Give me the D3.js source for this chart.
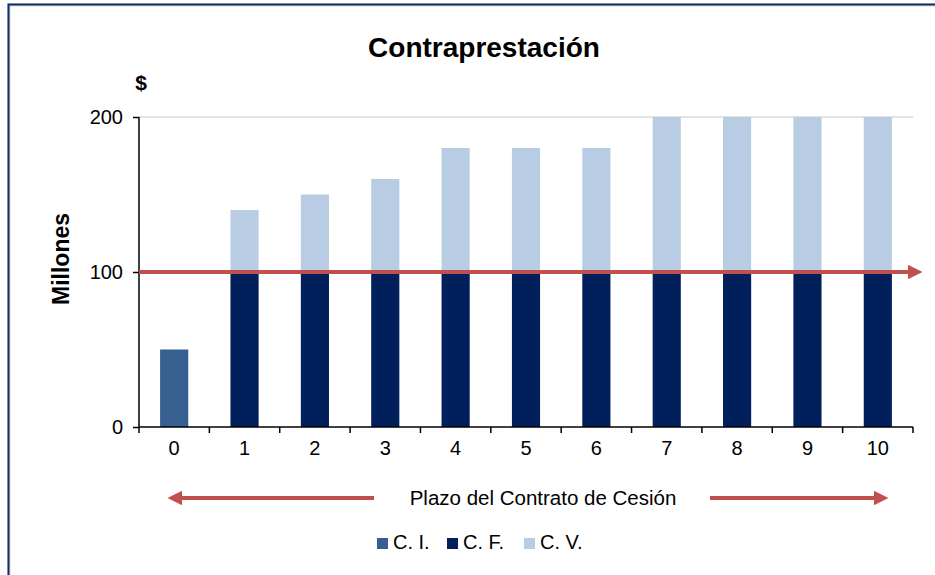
<!DOCTYPE html>
<html>
<head>
<meta charset="utf-8">
<script src="https://cdn.jsdelivr.net/npm/d3@7"></script>
<style>
  body { margin: 0; background: #fff; }
  svg { display: block; font-family: "Liberation Sans", Arial, sans-serif; }
</style>
</head>
<body>
<svg width="935" height="575"></svg>
<script>
// data
var periods = ["0", "1", "2", "3", "4", "5", "6", "7", "8", "9", "10"];
var ci = [50, 0, 0, 0, 0, 0, 0, 0, 0, 0, 0];
var cf = [0, 100, 100, 100, 100, 100, 100, 100, 100, 100, 100];
var cv = [0, 40, 50, 60, 80, 80, 80, 100, 100, 100, 100];
var seriesNames = ["C. I.", "C. F.", "C. V."];
var seriesColors = ["#35608f", "#001f5b", "#b8cce4"];
var yTicks = [0, 100, 200];
var refValue = 100;

var svg = d3.select("svg"),
    margin = {left: 139, right: 22, top: 117, bottom: 148},
    width = 935 - margin.left - margin.right,
    height = 575 - margin.top - margin.bottom;

// frame
svg.append("rect")
    .attr("x", 9).attr("y", 5)
    .attr("width", 940).attr("height", 590)
    .attr("fill", "none")
    .attr("stroke", "#d9d9d9").attr("stroke-width", 3);
svg.append("rect")
    .attr("x", 8.5).attr("y", 4.5)
    .attr("width", 940).attr("height", 590)
    .attr("fill", "none")
    .attr("stroke", "#0f2d6b").attr("stroke-width", 2);

var g = svg.append("g").attr("transform", "translate(" + margin.left + "," + margin.top + ")");

var x = d3.scaleBand().domain(periods).range([0, width]);
var y = d3.scaleLinear().domain([0, 200]).range([height, 0]);

var rows = periods.map(function(p, i) {
  return {period: p, ci: ci[i], cf: cf[i], cv: cv[i]};
});
var stack = d3.stack().keys(["ci", "cf", "cv"])(rows);

// gridline at 200
g.append("line")
    .attr("x1", 0).attr("x2", width)
    .attr("y1", y(200)).attr("y2", y(200))
    .attr("stroke", "#d9d9d9").attr("stroke-width", 1.5);

var barW = x.bandwidth() * 0.4;
g.append("g").selectAll("g")
  .data(stack)
  .enter().append("g")
    .attr("fill", function(d, i) { return seriesColors[i]; })
  .selectAll("rect")
  .data(function(d) { return d.filter(function(e) { return e[1] > e[0]; }); })
  .enter().append("rect")
    .attr("x", function(d) { return x(d.data.period) + (x.bandwidth() - barW) / 2; })
    .attr("width", barW)
    .attr("y", function(d) { return y(d[1]); })
    .attr("height", function(d) { return y(d[0]) - y(d[1]); });

// axes
var yAxis = g.append("g")
    .call(d3.axisLeft(y).tickValues(yTicks).tickSize(6).tickPadding(10));
var xAxis = g.append("g")
    .attr("transform", "translate(0," + height + ")")
    .call(d3.axisBottom(x).tickSize(0).tickPadding(14));
xAxis.selectAll(".tick line").remove();
// x ticks at band boundaries
g.append("g").selectAll("line")
  .data(periods.concat(["end"]))
  .enter().append("line")
    .attr("x1", function(d, i) { return i * x.step(); })
    .attr("x2", function(d, i) { return i * x.step(); })
    .attr("y1", height).attr("y2", height + 6)
    .attr("stroke", "#000").attr("stroke-width", 1.5);

[yAxis, xAxis].forEach(function(a) {
  a.attr("font-size", null).attr("font-family", null);
  a.selectAll("text").attr("fill", "#000")
    .style("font-size", "20px")
    .style("font-family", "'Liberation Sans', Arial, sans-serif");
  a.select(".domain").attr("stroke", "#000").attr("stroke-width", 1.5);
  a.selectAll(".tick line").attr("stroke", "#000").attr("stroke-width", 1.5);
});
yAxis.select(".domain").attr("d", "M0,0V" + height);
xAxis.select(".domain").attr("d", "M0,0H" + width);

// marker
var defs = svg.append("defs");
defs.append("marker")
    .attr("id", "arrow")
    .attr("viewBox", "0 0 10 10")
    .attr("refX", 0).attr("refY", 5)
    .attr("markerWidth", 3.8).attr("markerHeight", 3.8)
    .attr("orient", "auto-start-reverse")
    .append("path").attr("d", "M0,0L10,5L0,10Z").attr("fill", "#c0504d");

// reference line at 100
g.append("line")
    .attr("x1", 0).attr("x2", width - 5)
    .attr("y1", y(refValue)).attr("y2", y(refValue))
    .attr("stroke", "#c0504d").attr("stroke-width", 3.8)
    .attr("marker-end", "url(#arrow)");

// titles
svg.append("text")
    .attr("x", 484).attr("y", 57)
    .attr("text-anchor", "middle")
    .style("font-size", "28px").attr("font-weight", "bold")
    .text("Contraprestación");
svg.append("text")
    .attr("x", 141).attr("y", 90)
    .attr("text-anchor", "middle")
    .style("font-size", "21px").attr("font-weight", "bold")
    .text("$");
svg.append("text")
    .attr("transform", "translate(69,259) rotate(-90)")
    .attr("text-anchor", "middle")
    .style("font-size", "23px").attr("font-weight", "bold")
    .text("Millones");

// bottom arrows + label
svg.append("line")
    .attr("x1", 374).attr("x2", 182)
    .attr("y1", 498).attr("y2", 498)
    .attr("stroke", "#c0504d").attr("stroke-width", 3.8)
    .attr("marker-end", "url(#arrow)");
svg.append("line")
    .attr("x1", 710).attr("x2", 874)
    .attr("y1", 498).attr("y2", 498)
    .attr("stroke", "#c0504d").attr("stroke-width", 3.8)
    .attr("marker-end", "url(#arrow)");
svg.append("text")
    .attr("x", 543).attr("y", 505)
    .attr("text-anchor", "middle")
    .style("font-size", "20.5px")
    .text("Plazo del Contrato de Cesión");

// legend
var legendX = [377, 447, 524];
var legend = svg.append("g").selectAll("g")
  .data(seriesNames)
  .enter().append("g")
    .attr("transform", function(d, i) { return "translate(" + legendX[i] + ",538)"; });
legend.append("rect")
    .attr("width", 11).attr("height", 11)
    .attr("fill", function(d, i) { return seriesColors[i]; });
legend.append("text")
    .attr("x", 16).attr("y", 11)
    .style("font-size", "20px")
    .text(function(d) { return d; });
</script>
</body>
</html>
